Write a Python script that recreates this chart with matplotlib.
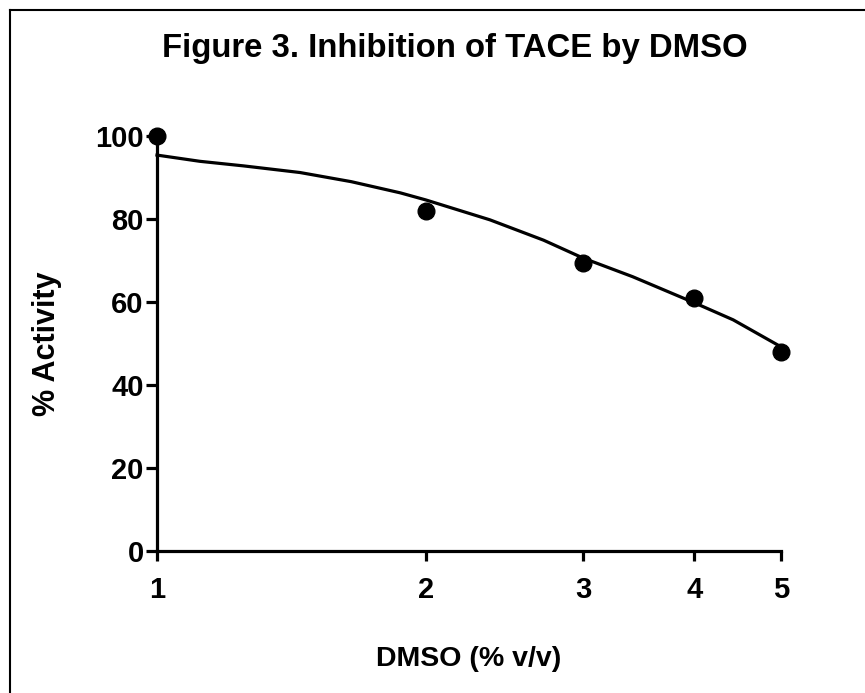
import matplotlib
matplotlib.use("Agg")
import matplotlib.pyplot as plt
from matplotlib.lines import Line2D

plt.rcParams['font.family'] = ['Liberation Sans', 'DejaVu Sans']
plt.rcParams['font.weight'] = 'bold'

# Data
dmso = [1, 2, 3, 4, 5]
activity = [100, 81.9, 69.4, 61.0, 48.0]

# fitted curve
curve_x = [1, 1.117, 1.25, 1.446, 1.65, 1.873, 2, 2.36, 2.71, 3, 3.41, 4, 4.42, 5]
curve_y = [95.4, 93.9, 92.8, 91.2, 89.0, 86.3, 84.6, 79.8, 74.9, 70.6, 66.1, 59.8, 55.7, 49.2]

xticks = [1, 2, 3, 4, 5]
yticks = [0, 20, 40, 60, 80, 100]

W, H = 865, 693
fig = plt.figure(figsize=(W / 100, H / 100), dpi=100)
ax = fig.add_axes([157 / W, 1 - 551 / H, (781 - 157) / W, (551 - 136) / H])

ax.plot(curve_x, curve_y, color='black', lw=2.3, clip_on=False, zorder=2,
        solid_joinstyle='round')
ax.plot(dmso, activity, 'o', color='black', ms=12, clip_on=False, zorder=3)

ax.set_xscale('log')
ax.set_xlim(1, 5)
ax.set_ylim(0, 100)
ax.set_xticks(xticks)
ax.set_xticklabels([str(t) for t in xticks])
ax.minorticks_off()
ax.set_yticks(yticks)
ax.set_yticklabels([str(t) for t in yticks])

for s in ['top', 'right']:
    ax.spines[s].set_visible(False)
for s in ['left', 'bottom']:
    ax.spines[s].set_linewidth(2.3)
ax.tick_params(axis='both', width=2.3, labelsize=21, direction='out')
ax.tick_params(axis='x', length=7, pad=11)
ax.tick_params(axis='y', length=8, pad=1.5)
for lbl in ax.get_xticklabels() + ax.get_yticklabels():
    lbl.set_fontweight('bold')

ax.set_xlabel('DMSO (% v/v)', fontsize=20.5, fontweight='bold', labelpad=30)
ax.set_ylabel('% Activity', fontsize=22, fontweight='bold', labelpad=24)
fig.text(455 / W, 1 - 48 / H, 'Figure 3. Inhibition of TACE by DMSO', ha='center', va='center',
         fontsize=23.7, fontweight='bold')

# frame lines (top and left)
fig.add_artist(Line2D([10 / W, 1], [1 - 9.5 / H, 1 - 9.5 / H], color='black', lw=1.5, transform=fig.transFigure))
fig.add_artist(Line2D([10 / W, 10 / W], [0, 1 - 9.5 / H], color='black', lw=1.5, transform=fig.transFigure))

fig.savefig('out.png', dpi=100)
